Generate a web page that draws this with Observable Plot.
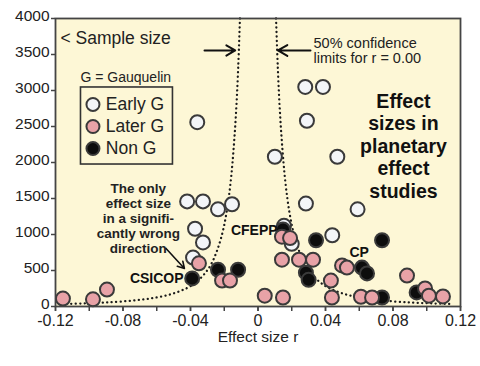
<!DOCTYPE html>
<html><head><meta charset="utf-8">
<script src="https://cdn.jsdelivr.net/npm/d3@7"></script>
<script src="https://cdn.jsdelivr.net/npm/@observablehq/plot@0.6"></script>
<style>body{margin:0;background:#fff;}</style>
</head><body><div id="chart"></div>
<script>
// ---- data ----
const categories = ["Early G", "Later G", "Non G"];
const earlyR = [-0.036, 0.028, 0.0385, 0.029, 0.010, 0.047, -0.042, -0.0326, -0.0237, -0.0154, -0.0373, -0.0326, -0.0385, 0.0284, 0.059, 0.044, 0.020, 0.0154];
const earlyN = [2560, 3050, 3050, 2580, 2080, 2080, 1460, 1460, 1350, 1420, 1080, 890, 680, 1430, 1350, 990, 870, 1120];
const laterR = [-0.1156, -0.0978, -0.0895, -0.035, -0.0213, -0.0166, 0.004, 0.0148, 0.0142, 0.019, 0.0142, 0.0243, 0.0326, 0.0432, 0.0438, 0.0498, 0.0527, 0.061, 0.0676, 0.0883, 0.099, 0.1013, 0.1096];
const laterN = [110, 100, 235, 600, 360, 360, 150, 125, 970, 950, 650, 650, 650, 360, 125, 570, 540, 135, 125, 430, 250, 150, 140];
const nonR = [-0.039, -0.0237, -0.0118, 0.0148, 0.0344, 0.0284, 0.030, 0.0616, 0.0646, 0.0735, 0.0735, 0.094];
const nonN = [390, 510, 510, 1070, 920, 470, 370, 540, 460, 920, 125, 195];
// 50% confidence limit curve for r = 0 (upper half)
const limitN = [4000, 3400, 2700, 2000, 1500, 1100, 800, 600, 450, 330, 250, 180, 130, 95, 70, 55, 45, 38, 34];
const limitR = [0.0107, 0.0116, 0.013, 0.0151, 0.0174, 0.0203, 0.0239, 0.0275, 0.0318, 0.0371, 0.0427, 0.0503, 0.0592, 0.0692, 0.0806, 0.091, 0.1006, 0.1094, 0.1157];
const yTicks = [0, 500, 1000, 1500, 2000, 2500, 3000, 3500, 4000];
const xTicksMajor = [-0.12, -0.08, -0.04, 0, 0.04, 0.08, 0.12];
const xTickLabels = ["-0.12", "-0.08", "-0.04", "0", "0.04", "0.08", "0.12"];
const xTicksMinor = [-0.12, -0.10, -0.08, -0.06, -0.04, -0.02, 0, 0.02, 0.04, 0.06, 0.08, 0.10, 0.12];

// ---- tables built from the arrays ----
const rows = (rs, ns, g) => rs.map((r, i) => ({r, n: ns[i], g}));
const early = rows(earlyR, earlyN, categories[0]);
const later = rows(laterR, laterN, categories[1]);
const non = rows(nonR, nonN, categories[2]);
const leftCurve = limitN.map((n, i) => ({r: -limitR[i], n}));
const rightCurve = limitN.map((n, i) => ({r: limitR[i], n}));
const legendRows = categories.map((g, i) => ({g, n: [2806, 2500, 2194][i]}));
const labelOf = new Map(xTicksMajor.map((v, i) => [v, xTickLabels[i]]));

const FONT = '"Liberation Sans", Arial, sans-serif';
const NARROW = '"Liberation Sans Narrow", "Arial Narrow", "Liberation Sans", sans-serif';
const BG = "#fdf7d6";
const OUT = "#3a3a3a";
const dotOpts = {x: "r", y: "n", r: 7, fill: "g", stroke: OUT, strokeWidth: 2};
const dotted = {x: "r", y: "n", stroke: "#1a1a1a", strokeWidth: 2.3, strokeDasharray: "0.1,4.4", strokeLinecap: "round", curve: "natural"};

const chart = Plot.plot({
  width: 480, height: 366,
  marginLeft: 55, marginRight: 20, marginTop: 18, marginBottom: 60,
  style: {fontFamily: FONT, background: "#fff", color: "#222"},
  x: {domain: [-0.12, 0.12]},
  y: {domain: [0, 4000]},
  color: {domain: categories, range: ["#f3f5f8", "#e8a2a7", "#0d0d0d"]},
  marks: [
    Plot.frame({fill: BG, stroke: null}),
    Plot.line(leftCurve, dotted),
    Plot.line(rightCurve, dotted),
    Plot.dot(early, dotOpts),
    Plot.dot(non, dotOpts),
    Plot.dot(later, dotOpts),
    // annotations
    Plot.text(["< Sample size"], {x: -0.1171, y: 3720, textAnchor: "start", fontSize: 17.5, fill: "#222"}),
    Plot.arrow([0], {x1: -0.0317, y1: 3556, x2: -0.0135, y2: 3556, stroke: "#111", strokeWidth: 2, headLength: 9}),
    Plot.arrow([0], {x1: 0.0311, y1: 3556, x2: 0.0118, y2: 3556, stroke: "#111", strokeWidth: 2, headLength: 9}),
    Plot.text(["50% confidence\nlimits for r = 0.00"], {x: 0.0329, y: 3549, textAnchor: "start", fontSize: 14.5, lineHeight: 1.03, fill: "#222"}),
    Plot.text(["G = Gauquelin"], {x: -0.1052, y: 3181, textAnchor: "start", fontSize: 14, fill: "#222"}),
    Plot.rect([0], {x1: -0.1049, x2: -0.0504, y1: 1972, y2: 3042, fill: "none", stroke: "#333", strokeWidth: 1.6}),
    Plot.dot(legendRows, {x: () => -0.0978, y: "n", r: 6.5, fill: "g", stroke: OUT, strokeWidth: 2}),
    Plot.text(legendRows, {x: () => -0.0902, y: "n", text: "g", textAnchor: "start", fontSize: 17.5, fill: "#222"}),
    Plot.text(["Effect\nsizes in\nplanetary\neffect\nstudies"], {x: 0.0862, y: 2236, fontSize: 19.5, fontWeight: "bold", lineHeight: 1.154, fill: "#111"}),
    Plot.text(["The only\neffect size\nin a signifi-\ncantly wrong\ndirection"], {x: -0.0709, y: 1222, fontSize: 13.5, fontWeight: "bold", lineHeight: 1.11, fill: "#222"}),
    Plot.arrow([0], {x1: -0.0545, y1: 806, x2: -0.0436, y2: 528, stroke: "#111", strokeWidth: 1.6, headLength: 7}),
    Plot.text(["CSICOP"], {x: -0.0441, y: 389, textAnchor: "end", fontSize: 14, fontWeight: "bold", fill: "#111"}),
    Plot.text(["CFEPP"], {x: 0.0116, y: 1056, textAnchor: "end", fontSize: 14, fontWeight: "bold", fill: "#111"}),
    Plot.text(["CP"], {x: 0.0542, y: 750, textAnchor: "start", fontSize: 14, fontWeight: "bold", fill: "#111"}),
    // axes
    Plot.frame({stroke: "#444", strokeWidth: 1.8}),
    Plot.axisY({ticks: yTicks, tickFormat: () => "", tickSize: 4, label: null, stroke: "#444", strokeWidth: 1.5}),
    Plot.axisY({ticks: yTicks, tickFormat: d => String(d), tickSize: 0, tickPadding: 6, dy: -2, fontFamily: NARROW, fontSize: 15.5, label: null}),
    Plot.axisX({ticks: xTicksMinor, tickFormat: () => "", tickSize: 5, label: null, stroke: "#444", strokeWidth: 1.5}),
    Plot.axisX({ticks: xTicksMajor, tickFormat: d => labelOf.get(d), tickSize: 5, tickPadding: 3, fontFamily: NARROW, fontSize: 16, label: null, stroke: "#444", strokeWidth: 1.5}),
    Plot.text(["Effect size r"], {frameAnchor: "bottom", dy: 35.5, fontSize: 15.5, fill: "#222"})
  ]
});
document.getElementById("chart").appendChild(chart);
</script>
</body></html>
